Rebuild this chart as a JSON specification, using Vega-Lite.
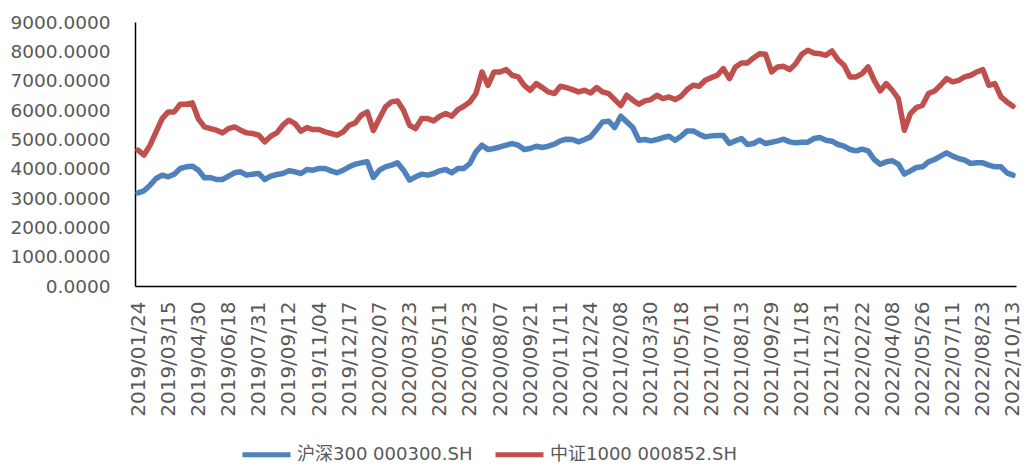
{
 "$schema": "https://vega.github.io/schema/vega-lite/v6.json",
 "width": 881, "height": 264,
 "autosize": "none",
 "padding": {"left": 135, "top": 22, "right": 11, "bottom": 180},
 "background": "white",
 "config": {"view": {"stroke": null}, "font": "DejaVu Sans"},
 "data": {"values": [
{"d":"2019/01/24","hs300":3177,"zz1000":4630},
{"d":"2019/02/01","hs300":3246,"zz1000":4460},
{"d":"2019/02/18","hs300":3438,"zz1000":4800},
{"d":"2019/02/26","hs300":3665,"zz1000":5254},
{"d":"2019/03/06","hs300":3779,"zz1000":5708},
{"d":"2019/03/15","hs300":3722,"zz1000":5935},
{"d":"2019/03/25","hs300":3813,"zz1000":5935},
{"d":"2019/04/02","hs300":4006,"zz1000":6196},
{"d":"2019/04/12","hs300":4063,"zz1000":6196},
{"d":"2019/04/22","hs300":4085,"zz1000":6242},
{"d":"2019/04/30","hs300":3950,"zz1000":5700},
{"d":"2019/05/13","hs300":3688,"zz1000":5424},
{"d":"2019/05/21","hs300":3699,"zz1000":5368},
{"d":"2019/05/29","hs300":3631,"zz1000":5311},
{"d":"2019/06/06","hs300":3631,"zz1000":5220},
{"d":"2019/06/18","hs300":3745,"zz1000":5368},
{"d":"2019/06/26","hs300":3858,"zz1000":5424},
{"d":"2019/07/04","hs300":3892,"zz1000":5311},
{"d":"2019/07/12","hs300":3779,"zz1000":5220},
{"d":"2019/07/22","hs300":3813,"zz1000":5198},
{"d":"2019/07/31","hs300":3836,"zz1000":5141},
{"d":"2019/08/08","hs300":3631,"zz1000":4914},
{"d":"2019/08/16","hs300":3745,"zz1000":5107},
{"d":"2019/08/26","hs300":3801,"zz1000":5220},
{"d":"2019/09/03","hs300":3836,"zz1000":5481},
{"d":"2019/09/12","hs300":3926,"zz1000":5652},
{"d":"2019/09/20","hs300":3892,"zz1000":5538},
{"d":"2019/10/09","hs300":3836,"zz1000":5277},
{"d":"2019/10/17","hs300":3972,"zz1000":5402},
{"d":"2019/10/25","hs300":3949,"zz1000":5334},
{"d":"2019/11/04","hs300":4006,"zz1000":5334},
{"d":"2019/11/12","hs300":4006,"zz1000":5254},
{"d":"2019/11/20","hs300":3926,"zz1000":5198},
{"d":"2019/11/28","hs300":3858,"zz1000":5141},
{"d":"2019/12/06","hs300":3949,"zz1000":5254},
{"d":"2019/12/17","hs300":4063,"zz1000":5481},
{"d":"2019/12/25","hs300":4153,"zz1000":5561},
{"d":"2020/01/06","hs300":4199,"zz1000":5822},
{"d":"2020/01/14","hs300":4233,"zz1000":5935},
{"d":"2020/02/03","hs300":3700,"zz1000":5300},
{"d":"2020/02/07","hs300":3949,"zz1000":5708},
{"d":"2020/02/17","hs300":4063,"zz1000":6106},
{"d":"2020/02/25","hs300":4119,"zz1000":6276},
{"d":"2020/03/04","hs300":4199,"zz1000":6310},
{"d":"2020/03/12","hs300":3949,"zz1000":5992},
{"d":"2020/03/23","hs300":3609,"zz1000":5481},
{"d":"2020/03/31","hs300":3722,"zz1000":5368},
{"d":"2020/04/09","hs300":3813,"zz1000":5708},
{"d":"2020/04/17","hs300":3779,"zz1000":5708},
{"d":"2020/04/27","hs300":3836,"zz1000":5629},
{"d":"2020/05/11","hs300":3926,"zz1000":5788},
{"d":"2020/05/19","hs300":3972,"zz1000":5879},
{"d":"2020/05/27","hs300":3858,"zz1000":5788},
{"d":"2020/06/04","hs300":4006,"zz1000":6015},
{"d":"2020/06/12","hs300":4006,"zz1000":6128},
{"d":"2020/06/23","hs300":4176,"zz1000":6276},
{"d":"2020/07/02","hs300":4573,"zz1000":6560},
{"d":"2020/07/10","hs300":4800,"zz1000":7297},
{"d":"2020/07/20","hs300":4653,"zz1000":6843},
{"d":"2020/07/28","hs300":4687,"zz1000":7297},
{"d":"2020/08/07","hs300":4744,"zz1000":7297},
{"d":"2020/08/17","hs300":4800,"zz1000":7377},
{"d":"2020/08/25","hs300":4857,"zz1000":7184},
{"d":"2020/09/02","hs300":4800,"zz1000":7127},
{"d":"2020/09/10","hs300":4653,"zz1000":6843},
{"d":"2020/09/21","hs300":4687,"zz1000":6673},
{"d":"2020/09/29","hs300":4766,"zz1000":6900},
{"d":"2020/10/15","hs300":4721,"zz1000":6764},
{"d":"2020/10/23","hs300":4766,"zz1000":6616},
{"d":"2020/11/02","hs300":4834,"zz1000":6560},
{"d":"2020/11/11","hs300":4948,"zz1000":6809},
{"d":"2020/11/19","hs300":5004,"zz1000":6764},
{"d":"2020/11/27","hs300":4993,"zz1000":6696},
{"d":"2020/12/07","hs300":4914,"zz1000":6616},
{"d":"2020/12/15","hs300":4993,"zz1000":6673},
{"d":"2020/12/24","hs300":5084,"zz1000":6582},
{"d":"2021/01/05","hs300":5334,"zz1000":6764},
{"d":"2021/01/13","hs300":5595,"zz1000":6616},
{"d":"2021/01/21","hs300":5618,"zz1000":6560},
{"d":"2021/01/29","hs300":5402,"zz1000":6355},
{"d":"2021/02/08","hs300":5788,"zz1000":6150},
{"d":"2021/02/22","hs300":5595,"zz1000":6503},
{"d":"2021/03/02","hs300":5402,"zz1000":6333},
{"d":"2021/03/10","hs300":4970,"zz1000":6196},
{"d":"2021/03/18","hs300":4993,"zz1000":6310},
{"d":"2021/03/30","hs300":4948,"zz1000":6355},
{"d":"2021/04/08","hs300":4993,"zz1000":6503},
{"d":"2021/04/16","hs300":5061,"zz1000":6389},
{"d":"2021/04/26","hs300":5107,"zz1000":6446},
{"d":"2021/05/07","hs300":4970,"zz1000":6355},
{"d":"2021/05/18","hs300":5107,"zz1000":6469},
{"d":"2021/05/26","hs300":5288,"zz1000":6696},
{"d":"2021/06/03","hs300":5288,"zz1000":6843},
{"d":"2021/06/11","hs300":5175,"zz1000":6809},
{"d":"2021/06/22","hs300":5084,"zz1000":7014},
{"d":"2021/07/01","hs300":5118,"zz1000":7104},
{"d":"2021/07/09","hs300":5130,"zz1000":7184},
{"d":"2021/07/19","hs300":5130,"zz1000":7411},
{"d":"2021/07/27","hs300":4857,"zz1000":7070},
{"d":"2021/08/04","hs300":4948,"zz1000":7467},
{"d":"2021/08/13","hs300":5027,"zz1000":7604},
{"d":"2021/08/23","hs300":4823,"zz1000":7604},
{"d":"2021/08/31","hs300":4857,"zz1000":7774},
{"d":"2021/09/08","hs300":4970,"zz1000":7921},
{"d":"2021/09/16","hs300":4857,"zz1000":7899},
{"d":"2021/09/29","hs300":4902,"zz1000":7297},
{"d":"2021/10/13","hs300":4948,"zz1000":7467},
{"d":"2021/10/21","hs300":5004,"zz1000":7490},
{"d":"2021/10/29","hs300":4914,"zz1000":7377},
{"d":"2021/11/08","hs300":4880,"zz1000":7581},
{"d":"2021/11/18","hs300":4902,"zz1000":7899},
{"d":"2021/11/26","hs300":4902,"zz1000":8035},
{"d":"2021/12/06","hs300":5027,"zz1000":7944},
{"d":"2021/12/14","hs300":5061,"zz1000":7921},
{"d":"2021/12/22","hs300":4970,"zz1000":7865},
{"d":"2021/12/31","hs300":4936,"zz1000":8012},
{"d":"2022/01/11","hs300":4823,"zz1000":7717},
{"d":"2022/01/19","hs300":4766,"zz1000":7524},
{"d":"2022/01/27","hs300":4653,"zz1000":7127},
{"d":"2022/02/14","hs300":4607,"zz1000":7127},
{"d":"2022/02/22","hs300":4664,"zz1000":7240},
{"d":"2022/03/02","hs300":4607,"zz1000":7467},
{"d":"2022/03/10","hs300":4312,"zz1000":7013},
{"d":"2022/03/18","hs300":4150,"zz1000":6650},
{"d":"2022/03/28","hs300":4233,"zz1000":6900},
{"d":"2022/04/08","hs300":4267,"zz1000":6673},
{"d":"2022/04/19","hs300":4153,"zz1000":6389},
{"d":"2022/04/27","hs300":3813,"zz1000":5311},
{"d":"2022/05/10","hs300":3926,"zz1000":5878},
{"d":"2022/05/18","hs300":4040,"zz1000":6083},
{"d":"2022/05/26","hs300":4063,"zz1000":6162},
{"d":"2022/06/06","hs300":4233,"zz1000":6560},
{"d":"2022/06/14","hs300":4312,"zz1000":6650},
{"d":"2022/06/22","hs300":4426,"zz1000":6843},
{"d":"2022/06/30","hs300":4539,"zz1000":7070},
{"d":"2022/07/11","hs300":4426,"zz1000":6957},
{"d":"2022/07/19","hs300":4346,"zz1000":7013},
{"d":"2022/07/27","hs300":4290,"zz1000":7127},
{"d":"2022/08/04","hs300":4176,"zz1000":7184},
{"d":"2022/08/12","hs300":4199,"zz1000":7297},
{"d":"2022/08/23","hs300":4199,"zz1000":7377},
{"d":"2022/08/31","hs300":4119,"zz1000":6843},
{"d":"2022/09/08","hs300":4063,"zz1000":6900},
{"d":"2022/09/19","hs300":4063,"zz1000":6446},
{"d":"2022/09/27","hs300":3858,"zz1000":6276},
{"d":"2022/10/13","hs300":3779,"zz1000":6128}
 ]},
 "transform": [{"fold": ["hs300", "zz1000"], "as": ["series", "value"]}],
 "mark": {"type": "line", "strokeWidth": 5.5, "strokeCap": "round", "strokeJoin": "round"},
 "encoding": {
  "x": {"field": "d", "type": "ordinal", "sort": null,
   "scale": {"type": "point", "padding": 0.5},
   "axis": {"title": null, "labelAngle": 270, "labelFontSize": 20, "labelColor": "#595959", "labelFont": "DejaVu Sans",
    "ticks": false, "grid": false, "domainColor": "#000000", "domainWidth": 1.5, "labelPadding": 15, "labelOverlap": false,
    "values": ["2019/01/24","2019/03/15","2019/04/30","2019/06/18","2019/07/31","2019/09/12","2019/11/04","2019/12/17","2020/02/07","2020/03/23","2020/05/11","2020/06/23","2020/08/07","2020/09/21","2020/11/11","2020/12/24","2021/02/08","2021/03/30","2021/05/18","2021/07/01","2021/08/13","2021/09/29","2021/11/18","2021/12/31","2022/02/22","2022/04/08","2022/05/26","2022/07/11","2022/08/23","2022/10/13"]}},
  "y": {"field": "value", "type": "quantitative", "scale": {"domain": [0, 9000], "nice": false},
   "axis": {"title": null, "values": [0,1000,2000,3000,4000,5000,6000,7000,8000,9000], "format": ".4f",
    "labelFontSize": 18.5, "labelColor": "#595959", "labelFont": "DejaVu Sans", "ticks": false, "grid": false,
    "domainColor": "#000000", "domainWidth": 1.5, "labelPadding": 25}},
  "color": {"field": "series", "type": "nominal",
   "scale": {"domain": ["hs300", "zz1000"], "range": ["#4F81BD", "#C0504D"]},
   "legend": {"title": null, "orient": "none", "legendX": 105, "legendY": 406, "direction": "horizontal",
    "labelExpr": "datum.label == 'hs300' ? '沪深300 000300.SH' : '中证1000 000852.SH'",
    "symbolType": "stroke", "symbolSize": 2304, "symbolStrokeWidth": 5, "labelFontSize": 18,
    "labelFont": "DejaVu Sans, Noto Sans CJK SC", "labelColor": "#595959", "columnPadding": 12, "labelOffset": 4, "labelLimit": 400}}
 }
}
